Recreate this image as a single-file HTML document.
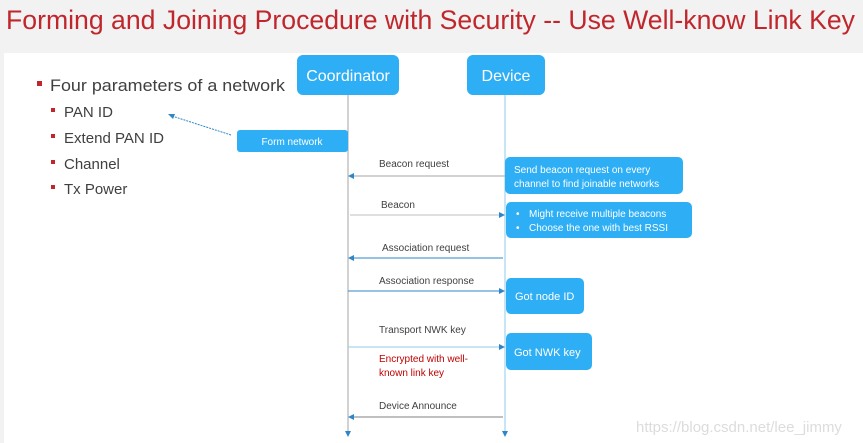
<!DOCTYPE html>
<html><head><meta charset="utf-8"><style>
html,body{margin:0;padding:0;background:#f2f2f2;}
svg{display:block;font-family:"Liberation Sans",sans-serif;}
</style></head><body>
<svg width="863" height="443" viewBox="0 0 863 443" xmlns="http://www.w3.org/2000/svg">
<rect width="863" height="443" fill="#f2f2f2"/>
<rect x="4" y="53" width="859" height="390" fill="#fff"/>
<text x="6" y="29" font-size="27" fill="#c0272d" textLength="849" lengthAdjust="spacingAndGlyphs">Forming and Joining Procedure with Security -- Use Well-know Link Key</text>
<!-- bullets -->
<rect x="37" y="81" width="5" height="5" fill="#c0272d"/>
<text x="50" y="91" font-size="17" fill="#404040" textLength="235" lengthAdjust="spacingAndGlyphs">Four parameters of a network</text>
<g font-size="15" fill="#404040">
<rect x="51" y="108" width="4" height="4" fill="#c0272d"/><text x="64" y="117">PAN ID</text>
<rect x="51" y="134" width="4" height="4" fill="#c0272d"/><text x="64" y="143" textLength="100" lengthAdjust="spacingAndGlyphs">Extend PAN ID</text>
<rect x="51" y="160" width="4" height="4" fill="#c0272d"/><text x="64" y="169">Channel</text>
<rect x="51" y="185" width="4" height="4" fill="#c0272d"/><text x="64" y="194">Tx Power</text>
</g>
<!-- lifelines -->
<line x1="348" y1="95" x2="348" y2="432" stroke="#a6a6a6" stroke-width="1"/>
<line x1="505" y1="95" x2="505" y2="432" stroke="#8fcbe8" stroke-width="1"/>
<polygon points="345,431 351,431 348,437" fill="#2e86c8"/>
<polygon points="502,431 508,431 505,437" fill="#2e86c8"/>
<!-- headers -->
<rect x="297" y="55" width="102" height="40" rx="6" fill="#2eaef5"/>
<text x="348" y="81" font-size="16" fill="#fff" text-anchor="middle">Coordinator</text>
<rect x="467" y="55" width="78" height="40" rx="6" fill="#2eaef5"/>
<text x="506" y="81" font-size="16" fill="#fff" text-anchor="middle">Device</text>
<!-- form network -->
<line x1="231" y1="135" x2="172" y2="116" stroke="#2e86c8" stroke-dasharray="2,1"/>
<polygon points="168,114 175,114 173,119" fill="#2e86c8"/>
<rect x="237" y="130" width="111" height="22" rx="3" fill="#2eaef5"/>
<text x="292" y="145" font-size="10" fill="#fff" text-anchor="middle">Form network</text>
<!-- messages -->
<g font-size="10" fill="#404040">
<text x="379" y="167">Beacon request</text>
<text x="381" y="208">Beacon</text>
<text x="382" y="251">Association request</text>
<text x="379" y="284">Association response</text>
<text x="379" y="333">Transport NWK key</text>
<text x="379" y="409">Device Announce</text>
</g>
<text x="379" y="362" font-size="10" fill="#c00000">Encrypted with well-</text>
<text x="379" y="376" font-size="10" fill="#c00000">known link key</text>
<line x1="352" y1="176" x2="505" y2="176" stroke="#a6a6a6"/><polygon points="348,176 354,173 354,179" fill="#2e86c8"/>
<line x1="350" y1="215" x2="500" y2="215" stroke="#bfbfbf"/><polygon points="505,215 499,212 499,218" fill="#2e86c8"/>
<line x1="352" y1="258" x2="503" y2="258" stroke="#2e86c8"/><polygon points="348,258 354,255 354,261" fill="#2e86c8"/>
<line x1="348" y1="291" x2="500" y2="291" stroke="#2e86c8"/><polygon points="505,291 499,288 499,294" fill="#2e86c8"/>
<line x1="348" y1="347" x2="500" y2="347" stroke="#8fcbe8"/><polygon points="505,347 499,344 499,350" fill="#2e86c8"/>
<line x1="352" y1="417" x2="503" y2="417" stroke="#808080"/><polygon points="348,417 354,414 354,420" fill="#2e86c8"/>
<!-- device boxes -->
<rect x="505" y="157" width="178" height="37" rx="5" fill="#2eaef5"/>
<text x="514" y="173" font-size="10" fill="#fff">Send beacon request on every</text>
<text x="514" y="187" font-size="10" fill="#fff">channel to find joinable networks</text>
<rect x="506" y="202" width="186" height="36" rx="5" fill="#2eaef5"/>
<text x="516" y="217" font-size="10" fill="#fff">•</text><text x="529" y="217" font-size="10" fill="#fff">Might receive multiple beacons</text>
<text x="516" y="231" font-size="10" fill="#fff">•</text><text x="529" y="231" font-size="10" fill="#fff">Choose the one with best RSSI</text>
<rect x="506" y="278" width="78" height="36" rx="5" fill="#2eaef5"/>
<text x="515" y="300" font-size="11" fill="#fff">Got node ID</text>
<rect x="506" y="333" width="86" height="37" rx="5" fill="#2eaef5"/>
<text x="514" y="356" font-size="11" fill="#fff">Got NWK key</text>
<text x="636" y="432" font-size="15" fill="#dcdcdc">https://blog.csdn.net/lee_jimmy</text>
</svg>
</body></html>
